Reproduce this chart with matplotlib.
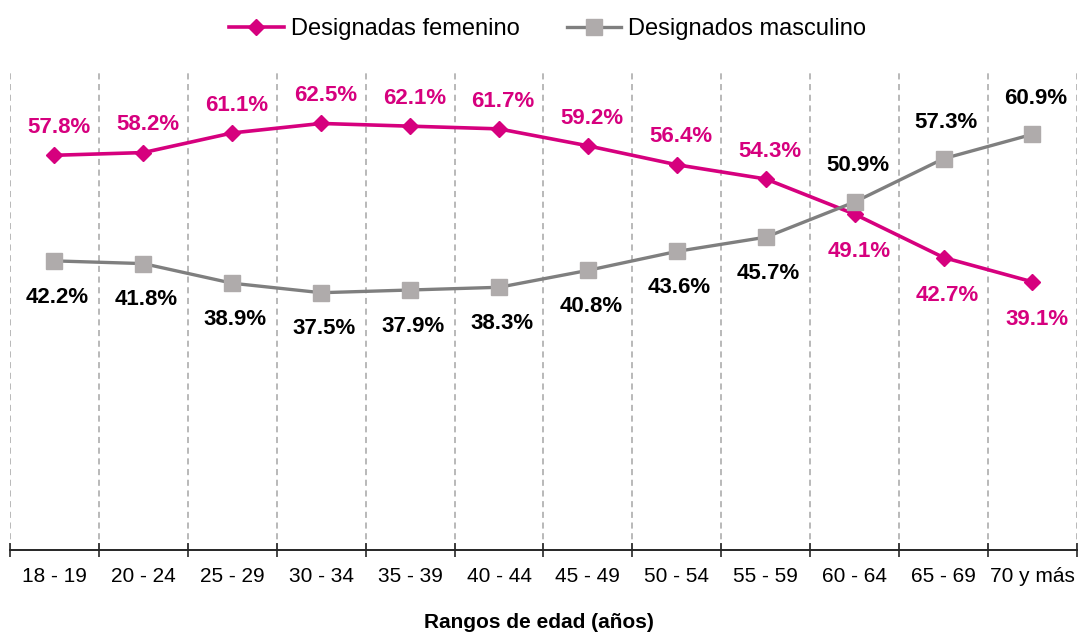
import matplotlib.pyplot as plt
from matplotlib.ticker import FixedLocator

plt.rcParams['font.family'] = ['Liberation Sans', 'DejaVu Sans']

age_groups = ['18 - 19', '20 - 24', '25 - 29', '30 - 34', '35 - 39', '40 - 44',
              '45 - 49', '50 - 54', '55 - 59', '60 - 64', '65 - 69', '70 y más']
femenino = [57.8, 58.2, 61.1, 62.5, 62.1, 61.7, 59.2, 56.4, 54.3, 49.1, 42.7, 39.1]
masculino = [42.2, 41.8, 38.9, 37.5, 37.9, 38.3, 40.8, 43.6, 45.7, 50.9, 57.3, 60.9]

# label goes above the point unless marked below
fem_below = [False] * 9 + [True] * 3
masc_below = [True] * 9 + [False] * 3

pink = '#D6007E'
gray_line = '#7F7F7F'
gray_marker = '#AFABAB'

fig = plt.figure(figsize=(10.78, 6.35), dpi=100)
ax = fig.add_axes([0.0093, 0.1339, 0.9897, 0.7559])

x = list(range(len(age_groups)))
ax.plot(x, femenino, color=pink, lw=2.6, marker='D', ms=8.5,
        mfc=pink, mec=pink, label='Designadas femenino', zorder=3)
ax.plot(x, masculino, color=gray_line, lw=2.4, marker='s', ms=11.5,
        mfc=gray_marker, mec=gray_marker, label='Designados masculino', zorder=3)

for xi, v, below in zip(x, femenino, fem_below):
    off = -27 if below else 20
    ax.annotate(f'{v}%', (xi, v), xytext=(3, off), textcoords='offset points',
                ha='center', va='center', fontsize=16, fontweight='bold', color=pink)
for xi, v, below in zip(x, masculino, masc_below):
    off = -26 if below else 26
    ax.annotate(f'{v}%', (xi, v), xytext=(2, off), textcoords='offset points',
                ha='center', va='center', fontsize=16, fontweight='bold', color='black')

ax.set_xlim(-0.5, len(age_groups) - 0.5)
ax.set_ylim(-0.5, 70.4)

# dashed separators between age groups
bounds = [i - 0.5 for i in range(len(age_groups) + 1)]
for b in bounds:
    ax.axvline(b, color='#A6A6A6', lw=1.1, ls=(0, (4, 3)), zorder=1)

ax.xaxis.set_major_locator(FixedLocator(bounds))
ax.xaxis.set_minor_locator(FixedLocator(x))
ax.set_xticklabels([], minor=False)
ax.set_xticklabels(age_groups, minor=True, fontsize=15)
ax.tick_params(axis='x', which='major', direction='inout', length=10, width=1.2, color='#262626')
ax.tick_params(axis='x', which='minor', length=0, pad=12)
ax.set_yticks([])

for s in ['top', 'right', 'left']:
    ax.spines[s].set_visible(False)
ax.spines['bottom'].set_color('#262626')
ax.spines['bottom'].set_linewidth(1.4)

fig.text(0.5, 0.02, 'Rangos de edad (años)', ha='center', va='center',
         fontsize=15, fontweight='bold')

fig.legend(loc='upper center', bbox_to_anchor=(0.508, 1.005), ncol=2, frameon=False,
           fontsize=17, handlelength=2.3, columnspacing=2.0, handletextpad=0.3)

fig.savefig('out.png', dpi=100)
